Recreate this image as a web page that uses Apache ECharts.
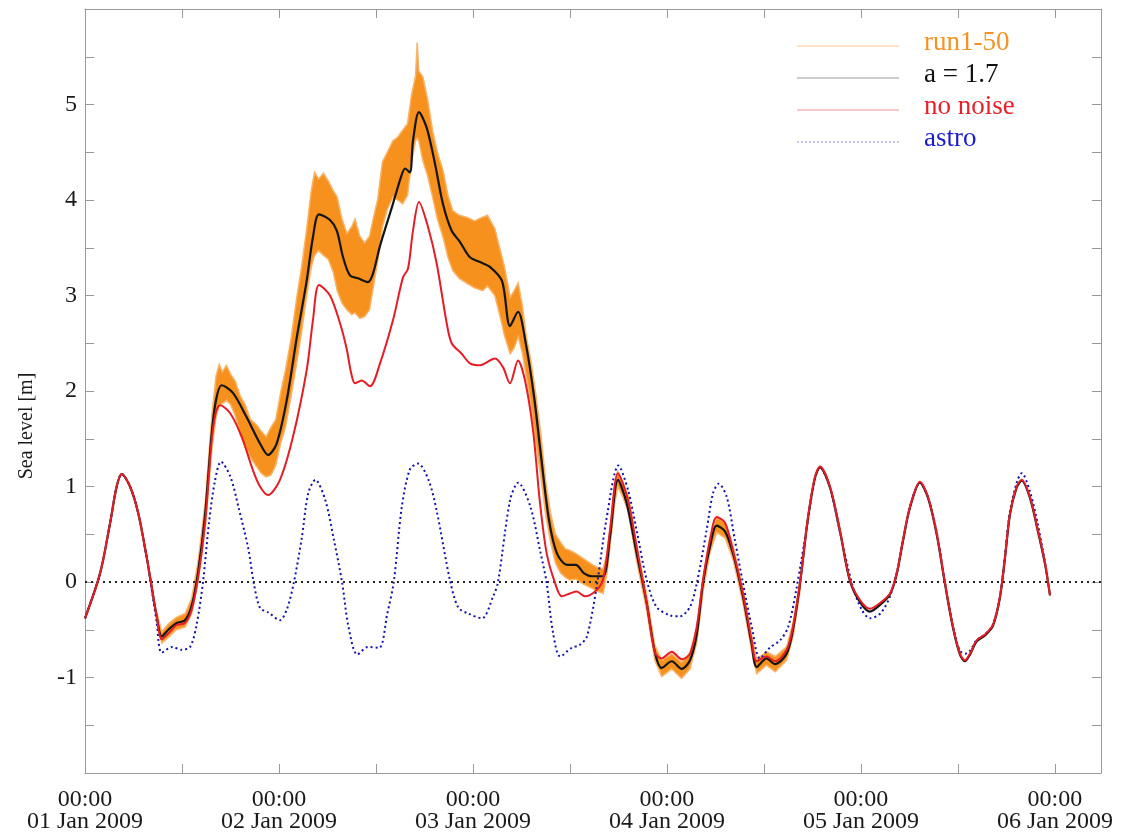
<!DOCTYPE html>
<html>
<head>
<meta charset="utf-8">
<script src="https://cdn.jsdelivr.net/npm/echarts@6/dist/echarts.min.js"></script>
<style>
  html, body { margin: 0; padding: 0; background: #ffffff; }
  #chart { width: 1128px; height: 836px; }
</style>
</head>
<body>
<div id="chart"></div>
<script>
// time in hours since 01 Jan 2009 00:00
const dayLabels = ['01 Jan 2009', '02 Jan 2009', '03 Jan 2009', '04 Jan 2009', '05 Jan 2009', '06 Jan 2009'];
const yTickLabels = [-1, 0, 1, 2, 3, 4, 5];
const legendNames = ['run1-50', 'a = 1.7', 'no noise', 'astro'];

// no noise run [hour, sea level m]
const noNoise = [
  [0,-0.38],[1.86,0.09],[3.09,0.61],[3.92,1.0],[4.54,1.13],[5.57,1.0],[6.59,0.72],[7.63,0.26],[8.25,-0.05],[8.87,-0.36],
  [9.49,-0.60],[10.3,-0.54],[11.34,-0.45],[12.37,-0.43],[13.2,-0.29],[14.02,0.06],[14.85,0.61],[15.67,1.48],[16.2,1.78],[16.7,1.85],
  [17.94,1.77],[19.39,1.52],[20.78,1.17],[21.65,1.0],[22.64,0.91],[24.12,1.07],[25.73,1.52],[27.43,2.22],[28.2,2.74],[28.95,3.11],
  [30.31,3.0],[31.55,2.71],[32.38,2.44],[32.9,2.2],[33.4,2.08],[34.23,2.11],[35.26,2.05],[36.5,2.29],[38.1,2.74],[39.34,3.19],
  [39.96,3.28],[40.58,3.68],[41.32,3.98],[42.43,3.72],[43.5,3.34],[44.75,2.71],[45.37,2.50],[46.6,2.39],[47.63,2.29],[48.87,2.27],
  [50.72,2.34],[51.71,2.25],[52.58,2.08],[53.57,2.32],[54.44,2.11],[55.43,1.59],[56.29,0.83],[57.12,0.30],[58.15,-0.01],[58.98,-0.15],
  [60.0,-0.12],[60.83,-0.10],[61.86,-0.15],[63.1,-0.10],[64.08,0.02],[64.95,0.54],[65.94,1.14],[67.18,0.86],[68.25,0.37],[69.49,-0.22],
  [70.52,-0.74],[71.35,-0.80],[72.59,-0.73],[73.83,-0.81],[74.85,-0.75],[75.68,-0.47],[76.46,0.02],[77.32,0.44],[78.15,0.68],[79.18,0.62],
  [80.17,0.33],[81.4,-0.12],[82.48,-0.61],[83.1,-0.83],[84.33,-0.78],[85.36,-0.83],[86.81,-0.71],[87.59,-0.47],[88.46,-0.01],[89.45,0.68],
  [90.31,1.10],[90.93,1.21],[92.17,1.0],[93.41,0.54],[94.64,0.02],[95.88,-0.19],[97.12,-0.28],[98.36,-0.22],[99.59,-0.12],[100.42,0.09],
  [101.2,0.44],[102.07,0.79],[103.3,1.05],[104.3,0.89],[105.37,0.51],[106.4,-0.01],[107.39,-0.47],[108.25,-0.75],[108.87,-0.82],[109.49,-0.75],
  [110.32,-0.61],[111.34,-0.55],[112.33,-0.45],[113.2,-0.15],[113.82,0.26],[114.44,0.72],[115.27,1.0],[115.88,1.07],[116.91,0.89],[117.9,0.54],
  [118.77,0.20],[119.39,-0.14]
];

// a = 1.7 run [hour, sea level m]
const runA17 = [
  [0,-0.38],[1.86,0.09],[3.09,0.61],[3.92,1.0],[4.54,1.13],[5.57,1.0],[6.59,0.72],[7.63,0.26],[8.25,-0.05],[8.87,-0.36],
  [9.49,-0.57],[10.3,-0.50],[11.34,-0.43],[12.37,-0.40],[13.2,-0.25],[14.02,0.12],[14.85,0.70],[15.67,1.55],[16.2,1.90],[16.9,2.06],
  [18.3,1.98],[19.97,1.73],[21.65,1.45],[22.64,1.33],[23.71,1.45],[24.95,1.90],[26.18,2.55],[27.42,3.15],[28.2,3.61],[28.95,3.85],
  [30.31,3.79],[31.15,3.68],[31.93,3.40],[32.78,3.21],[33.77,3.18],[35.0,3.14],[35.63,3.23],[36.5,3.52],[38.1,3.96],[39.09,4.24],
  [39.6,4.33],[40.2,4.29],[40.58,4.62],[41.32,4.92],[42.26,4.76],[43.3,4.38],[44.28,3.96],[45.35,3.68],[46.4,3.56],[47.63,3.40],
  [48.87,3.35],[50.1,3.30],[51.6,3.15],[52.58,2.68],[53.57,2.83],[54.53,2.50],[55.56,1.94],[56.38,1.35],[57.4,0.65],[58.39,0.30],
  [59.65,0.18],[60.72,0.18],[61.75,0.09],[62.74,0.06],[64.08,0.06],[64.95,0.47],[65.94,1.07],[67.0,0.83],[68.25,0.30],[69.49,-0.22],
  [70.52,-0.74],[71.35,-0.90],[72.59,-0.83],[73.83,-0.91],[74.85,-0.82],[75.68,-0.55],[76.46,-0.01],[77.32,0.37],[78.15,0.59],[79.18,0.53],
  [80.17,0.30],[81.4,-0.15],[82.48,-0.65],[83.1,-0.89],[84.33,-0.80],[85.36,-0.86],[86.81,-0.75],[87.59,-0.50],[88.46,-0.02],[89.45,0.67],
  [90.31,1.09],[90.93,1.20],[92.17,0.99],[93.41,0.53],[94.64,0.01],[95.88,-0.21],[97.12,-0.31],[98.36,-0.24],[99.59,-0.13],[100.42,0.08],
  [101.2,0.43],[102.07,0.78],[103.3,1.04],[104.3,0.88],[105.37,0.50],[106.4,-0.02],[107.39,-0.48],[108.25,-0.76],[108.87,-0.83],[109.49,-0.76],
  [110.32,-0.62],[111.34,-0.56],[112.33,-0.46],[113.2,-0.16],[113.82,0.25],[114.44,0.71],[115.27,0.99],[115.88,1.06],[116.91,0.88],[117.9,0.53],
  [118.77,0.19],[119.39,-0.14]
];

// astronomical tide [hour, sea level m]
const astro = [
  [0,-0.38],[1.86,0.09],[3.09,0.61],[3.92,1.0],[4.54,1.13],[5.57,1.0],[6.59,0.72],[7.63,0.26],[8.25,-0.08],[8.87,-0.42],
  [9.49,-0.74],[10.8,-0.68],[11.95,-0.71],[13.0,-0.68],[13.8,-0.45],[14.6,0.0],[15.34,0.62],[16.06,1.05],[16.83,1.26],[18.0,1.10],
  [19.0,0.78],[20.2,0.35],[20.9,-0.02],[21.65,-0.27],[22.7,-0.32],[24.12,-0.40],[25.0,-0.28],[25.8,-0.02],[26.8,0.45],[27.62,0.93],
  [28.5,1.07],[29.72,0.86],[30.8,0.44],[31.8,0.0],[32.6,-0.47],[33.7,-0.76],[35.0,-0.68],[36.4,-0.69],[37.4,-0.33],[38.2,0.0],
  [39.2,0.79],[40.2,1.18],[41.2,1.24],[42.5,1.07],[43.5,0.75],[45.2,0.0],[46.2,-0.27],[47.4,-0.33],[49.1,-0.38],[50.5,-0.15],
  [51.1,0.0],[52.6,0.86],[53.6,1.04],[55.1,0.79],[56.3,0.33],[57.1,0.0],[57.9,-0.53],[58.8,-0.78],[60.2,-0.69],[61.2,-0.66],
  [62.1,-0.57],[63.3,-0.05],[64.5,0.65],[66.0,1.22],[67.2,0.96],[68.25,0.54],[69.5,0.02],[70.7,-0.26],[72.4,-0.35],[73.6,-0.36],
  [74.85,-0.26],[75.7,-0.01],[76.9,0.54],[77.7,0.93],[78.4,1.03],[79.4,0.89],[80.4,0.44],[81.4,-0.01],[82.5,-0.47],[83.5,-0.80],
  [84.7,-0.69],[86.0,-0.61],[87.0,-0.47],[88.0,-0.08],[89.45,0.65],[90.3,1.08],[90.93,1.20],[92.17,0.99],[93.41,0.52],[95.0,-0.05],
  [96.1,-0.29],[97.1,-0.38],[98.4,-0.33],[99.6,-0.15],[100.6,0.16],[101.2,0.44],[102.07,0.79],[103.3,1.04],[104.3,0.89],[105.4,0.51],
  [106.4,-0.01],[107.4,-0.47],[108.25,-0.72],[108.9,-0.75],[109.5,-0.72],[110.3,-0.61],[111.3,-0.55],[112.3,-0.45],[113.2,-0.15],[113.8,0.26],
  [114.4,0.72],[115.3,1.05],[115.9,1.14],[116.9,0.95],[117.9,0.60],[119.1,0.05]
];

// ensemble run1-50 envelope: hours, lower and upper bounds (m)
const ensHours = [9.0,9.5,10.3,11.3,12.4,13.2,14.0,14.9,15.7,16.2,16.6,17.0,17.5,18.0,18.6,19.2,19.8,20.5,21.2,21.8,
  22.4,23.0,23.6,24.2,24.8,25.5,26.2,26.8,27.4,28.0,28.4,28.9,29.5,30.1,30.7,31.2,31.8,32.4,33.0,33.4,
  34.0,34.6,35.2,35.7,36.2,36.8,37.4,38.1,38.7,39.3,39.9,40.4,40.9,41.1,41.3,41.8,42.4,43.0,43.6,44.3,
  44.9,45.5,46.3,47.2,48.2,49.2,49.8,50.7,51.3,51.9,52.6,53.1,53.6,54.1,54.6,55.2,55.8,56.4,57.0,57.6,
  58.2,58.8,59.4,60.0,60.7,61.4,62.1,62.8,63.5,64.1,64.6,65.0,65.5,65.9,66.5,67.2,68.25,69.5,70.5,71.35,
  72.6,73.8,74.85,75.7,76.5,77.3,78.15,79.2,80.2,81.4,82.5,83.1,84.3,85.4,86.8,87.6,88.5];
const ensLow = [-0.45,-0.64,-0.58,-0.50,-0.47,-0.33,0.02,0.58,1.40,1.72,1.85,1.87,1.90,1.86,1.74,1.55,1.42,1.30,1.21,1.14,
  1.10,1.12,1.22,1.45,1.62,1.95,2.30,2.62,2.98,3.30,3.42,3.47,3.42,3.38,3.25,3.05,2.92,2.85,2.80,2.82,
  2.76,2.78,2.85,3.10,3.35,3.72,3.90,4.03,4.00,3.96,4.05,4.40,4.62,4.65,4.62,4.41,4.25,4.03,3.80,3.61,
  3.40,3.26,3.18,3.13,3.08,3.05,3.10,3.00,2.80,2.58,2.39,2.45,2.57,2.40,2.15,1.85,1.45,1.10,0.70,0.42,
  0.20,0.10,0.05,0.02,0.03,-0.01,-0.04,-0.07,-0.10,-0.12,0.10,0.40,0.80,1.00,0.90,0.74,0.22,-0.30,-0.82,-0.99,
  -0.91,-1.01,-0.91,-0.63,-0.08,0.30,0.52,0.46,0.23,-0.22,-0.73,-0.96,-0.87,-0.94,-0.82,-0.57,-0.07];
const ensHigh = [-0.36,-0.52,-0.44,-0.37,-0.33,-0.17,0.22,0.85,1.75,2.15,2.28,2.20,2.27,2.18,2.10,1.95,1.86,1.70,1.65,1.58,
  1.52,1.62,1.70,1.98,2.22,2.55,2.98,3.30,3.68,4.10,4.29,4.22,4.28,4.20,4.10,4.03,3.80,3.65,3.72,3.80,
  3.62,3.55,3.62,3.82,4.00,4.40,4.50,4.62,4.66,4.73,4.80,5.10,5.30,5.65,5.35,5.29,5.05,4.73,4.50,4.31,
  4.05,3.89,3.84,3.82,3.78,3.82,3.84,3.70,3.50,3.30,2.98,3.05,3.13,2.90,2.57,2.30,1.95,1.55,1.05,0.72,
  0.50,0.42,0.35,0.33,0.30,0.26,0.22,0.18,0.15,0.14,0.30,0.58,0.98,1.16,1.05,0.90,0.38,-0.14,-0.66,-0.82,
  -0.75,-0.84,-0.74,-0.47,0.07,0.46,0.68,0.62,0.37,-0.08,-0.57,-0.81,-0.73,-0.78,-0.68,-0.43,0.04];

const FONT = 'Liberation Serif';
const chart = echarts.init(document.getElementById('chart'), null, { renderer: 'canvas' });

const axisColor = '#9a9a9a';
const xCommon = {
  type: 'value', min: 0, max: 125.7, interval: 12,
  axisLine: { show: true, onZero: false, lineStyle: { color: axisColor, width: 1 } },
  axisTick: { show: true, inside: true, length: 9, lineStyle: { color: axisColor } },
  splitLine: { show: false }
};
const yCommon = {
  type: 'value', min: -2, max: 6, interval: 0.5,
  axisLine: { show: true, onZero: false, lineStyle: { color: axisColor, width: 1 } },
  axisTick: { show: true, inside: true, length: 9, lineStyle: { color: axisColor } },
  splitLine: { show: false }
};

// legend drawn as graphic elements (line sample + coloured label)
const legendStyles = [
  { color: '#f39322', line: '#f8c690', dash: null },
  { color: '#111111', line: '#9c9c9c', dash: null },
  { color: '#e8202a', line: '#f29090', dash: null },
  { color: '#1c1cc8', line: '#8a8ad6', dash: [2, 2] }
];
const legendGraphics = [];
legendNames.forEach(function (name, i) {
  const y = 46 + i * 32;
  legendGraphics.push({
    type: 'line', silent: true, z: 100,
    shape: { x1: 797, y1: y, x2: 899, y2: y },
    style: { stroke: legendStyles[i].line, lineWidth: 1, lineDash: legendStyles[i].dash }
  });
  legendGraphics.push({
    type: 'text', silent: true, z: 100, left: 924, top: y - 17,
    style: { text: name, fill: legendStyles[i].color, font: '27px "Liberation Serif"' }
  });
});

chart.setOption({
  animation: false,
  backgroundColor: '#ffffff',
  grid: { left: 85, right: 27, top: 9, bottom: 63, containLabel: false },
  xAxis: [
    Object.assign({}, xCommon, {
      position: 'bottom',
      axisLabel: {
        show: true, margin: 16, fontFamily: FONT, fontSize: 24, lineHeight: 22, color: '#1a1a1a',
        showMaxLabel: false,
        formatter: function (v) {
          if (Math.abs(v % 24) < 1e-6) { return '00:00\n' + dayLabels[Math.round(v / 24)]; }
          return '';
        }
      }
    }),
    Object.assign({}, xCommon, { position: 'top', axisLabel: { show: false } })
  ],
  yAxis: [
    Object.assign({}, yCommon, {
      position: 'left',
      name: 'Sea level [m]', nameLocation: 'middle', nameGap: 48,
      nameTextStyle: { fontFamily: FONT, fontSize: 20, color: '#1a1a1a', padding: [0, 70, 0, 0] },
      axisLabel: {
        show: true, margin: 8, fontFamily: FONT, fontSize: 24, color: '#1a1a1a',
        formatter: function (v) {
          return yTickLabels.indexOf(v) >= 0 ? String(v) : '';
        }
      }
    }),
    Object.assign({}, yCommon, { position: 'right', axisLabel: { show: false } })
  ],
  graphic: legendGraphics,
  series: [
    {
      name: 'run1-50', type: 'custom', coordinateSystem: 'cartesian2d', silent: true, z: 1,
      clip: true,
      data: [[ensHours[0], ensLow[0]]],
      renderItem: function (params, api) {
        const pts = [];
        for (let i = 0; i < ensHours.length; i++) { pts.push(api.coord([ensHours[i], ensHigh[i]])); }
        for (let i = ensHours.length - 1; i >= 0; i--) { pts.push(api.coord([ensHours[i], ensLow[i]])); }
        return {
          type: 'polygon', shape: { points: pts },
          style: { fill: '#f5911c', stroke: '#f9b46a', lineWidth: 1.5 }
        };
      }
    },
    {
      name: 'astro', type: 'line', data: astro, symbol: 'none', smooth: 0.3,
      lineStyle: { color: '#1212aa', width: 2, type: [2, 3] }, z: 3,
      markLine: {
        silent: true, symbol: 'none', label: { show: false },
        lineStyle: { color: '#222222', width: 2.2, type: [2, 4] },
        data: [{ yAxis: 0 }]
      }
    },
    {
      name: 'a = 1.7', type: 'line', data: runA17, symbol: 'none', smooth: 0.3,
      lineStyle: { color: '#151515', width: 2.2 }, z: 4
    },
    {
      name: 'no noise', type: 'line', data: noNoise, symbol: 'none', smooth: 0.3,
      lineStyle: { color: '#e41d26', width: 2 }, z: 5
    }
  ]
});
</script>
</body>
</html>
